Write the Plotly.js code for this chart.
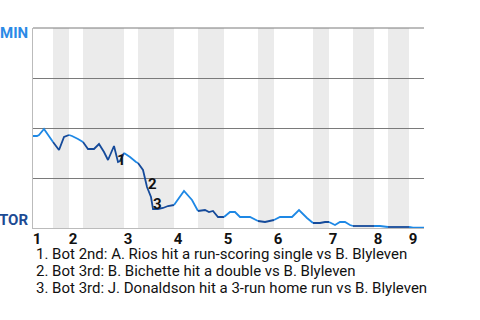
<!DOCTYPE html>
<html>
<head>
<meta charset="utf-8">
<script src="https://cdn.plot.ly/plotly-3.0.1.min.js"></script>
<style>html,body{margin:0;padding:0;background:#fff}#chart{width:480px;height:320px}</style>
</head>
<body>
<div id="chart"></div>
<script>
// game progress (play units) and Minnesota win probability
const play = [0,1,1.5,2.75,5,6.5,7.75,9,9.75,11.25,12.5,13.75,15.25,16.5,17.75,18.75,20.25,21.25,21.75,22.75,
  24.25,25.75,26.25,27.5,28.5,29.5,30,31.25,32.5,33.75,35.25,36.75,37.75,39.75,41.25,43,44,45,46.25,47.75,
  49.25,50.5,51.75,54.25,56.25,58,60.25,61.75,64.75,66.5,68.5,70,71.75,73,74,75.5,76.75,78,79.25,80,85.25,
  86.75,88.75,94,95,97.75];
const minWP = [0.46,0.46,0.465,0.495,0.43,0.39,0.455,0.465,0.46,0.445,0.43,0.395,0.395,0.42,0.38,0.34,0.41,0.33,0.335,0.375,
  0.355,0.33,0.325,0.29,0.205,0.155,0.095,0.095,0.1,0.11,0.115,0.155,0.185,0.14,0.085,0.09,0.08,0.085,0.055,0.055,
  0.08,0.08,0.055,0.055,0.035,0.03,0.04,0.055,0.055,0.09,0.05,0.025,0.025,0.03,0.03,0.015,0.03,0.03,0.015,0.01,0.01,
  0.01,0.005,0.005,0.002,0.002];
// start of each half inning (top 1, bot 1, top 2, ...), and end of game
const halfStarts = [0,5,9,12.5,22.75,26.25,35.25,41.25,47.75,56.25,60.25,70,74,80,85.25,88.75,94,97.75];
const inningLabels = ['1','2','3','4','5','6','7','8','9'];
const inningFirstPlay = [1,10,23.75,36.25,48.75,61.25,75,86.25,95];
const eventNums = ['1','2','3'];
const eventPlay = [22,29.75,31];
const eventWP = [0.34,0.22,0.12];
const eventTexts = [
  '1. Bot 2nd: A. Rios hit a run-scoring single vs B. Blyleven',
  '2. Bot 3rd: B. Bichette hit a double vs B. Blyleven',
  '3. Bot 3rd: J. Donaldson hit a 3-run home run vs B. Blyleven'
];
const teamTop = 'MIN', teamBottom = 'TOR';

const LIGHT = '#1e88e5', DARK = '#154a9a';
const traces = [];
const shapes = [];
for (let i = 0; i < halfStarts.length - 1; i++) {
  const a = halfStarts[i], b = halfStarts[i+1];
  const xs = [], ys = [];
  play.forEach((p, k) => { if (p >= a && p <= b) { xs.push(p); ys.push(minWP[k]); } });
  const bottom = i % 2 === 1;
  traces.push({x: xs, y: ys, mode: 'lines', line: {color: bottom ? DARK : LIGHT, width: 1.8}, hoverinfo: 'skip', showlegend: false});
  if (bottom) shapes.push({type: 'rect', xref: 'x', yref: 'paper', x0: a, x1: b, y0: 0, y1: 1, fillcolor: '#ebebeb', line: {width: 0}, layer: 'below'});
}
shapes.push({type: 'line', xref: 'paper', yref: 'paper', x0: 0, x1: 1, y0: 1, y1: 1, line: {color: '#7a7a7a', width: 1}, layer: 'below'});
const annotations = [];
eventNums.forEach((t, i) => annotations.push({x: eventPlay[i], y: eventWP[i], text: t, showarrow: false, font: {family: 'Roboto', size: 15, color: '#111', weight: 'bold'}}));
annotations.push({xref: 'paper', yref: 'paper', x: 0, y: 0.975, xanchor: 'right', yanchor: 'middle', xshift: -4, borderpad: 0, text: teamTop, showarrow: false, font: {family: 'Roboto', size: 15, color: '#2a8ae6', weight: 'bold'}});
annotations.push({xref: 'paper', yref: 'paper', x: 0, y: 0.04, xanchor: 'right', yanchor: 'middle', xshift: -4, borderpad: 0, text: teamBottom, showarrow: false, font: {family: 'Roboto', size: 15, color: '#1d4b94', weight: 'bold'}});
const noteY = [-0.128, -0.215, -0.302];
eventTexts.forEach((t, i) => annotations.push({xref: 'paper', yref: 'paper', x: 0.004, y: noteY[i], xanchor: 'left', yanchor: 'middle', borderpad: 0, text: t, showarrow: false, font: {family: 'Roboto', size: 15, color: '#111'}}));

const layout = {
  width: 480, height: 320,
  margin: {l: 33, r: 56, t: 28, b: 92},
  paper_bgcolor: '#fff', plot_bgcolor: '#fff',
  xaxis: {range: [0, 97.75], tickvals: inningFirstPlay, ticktext: inningLabels, showgrid: false, zeroline: false,
    showline: true, linecolor: '#bbb', linewidth: 1, ticks: '', ticklabelstandoff: -3,
    tickfont: {family: 'Roboto', size: 15, color: '#111', weight: 'bold'}},
  yaxis: {range: [0, 1], tickvals: [0.25, 0.5, 0.75, 1], showticklabels: false, showgrid: true, gridcolor: '#7a7a7a', gridwidth: 1,
    zeroline: false, showline: true, linecolor: '#bbb', linewidth: 1, ticks: ''},
  shapes: shapes,
  annotations: annotations,
  showlegend: false
};
Plotly.newPlot('chart', traces, layout, {displayModeBar: false, staticPlot: true});
</script>
</body>
</html>
